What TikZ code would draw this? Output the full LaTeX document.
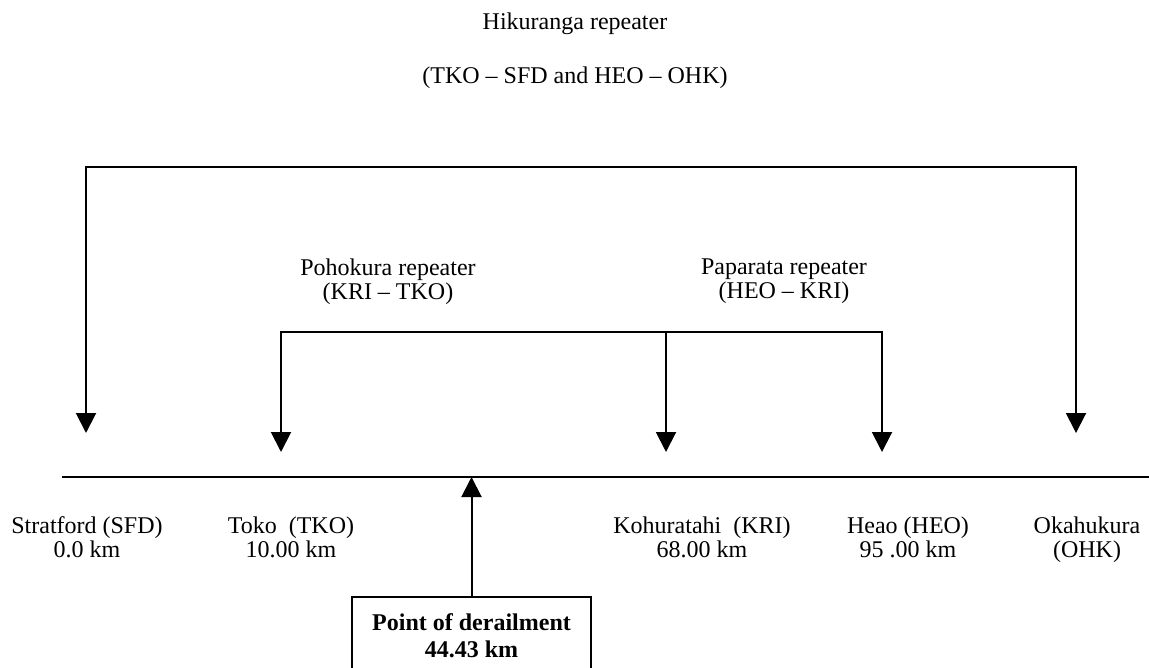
\documentclass[tikz,border=0pt]{standalone}
\usepackage{fontspec}
\setmainfont{Liberation Serif}
\usetikzlibrary{arrows.meta}

\begin{document}
\begin{tikzpicture}[x=0.5pt, y=-0.5pt,
        lbl/.style={align=center, inner sep=0pt, anchor=north, font=\fontsize{12}{12}\selectfont},
        feed/.style={-{Triangle[length=10pt, width=10pt]}, line width=1pt},
        track/.style={line width=1pt},
        pointbox/.style={draw, line width=1pt, align=center, inner sep=0pt, minimum width=119.5pt, minimum height=38.3pt, font=\fontsize{12}{13.5}\selectfont\bfseries}]
      \useasboundingbox (0,0) rectangle (1149,668);
      % titles of the repeaters
      \node[lbl] (hik) at (575,12) {Hikuranga repeater};
      \node[lbl] (hiksec) at (575,66.5) {(TKO -- SFD and HEO -- OHK)};
      \node[lbl] (poh) at (388,258.6) {Pohokura repeater\\(KRI -- TKO)};
      \node[lbl] (pap) at (784,258.6) {Paparata repeater\\(HEO -- KRI)};
      % stations along the line
      \foreach \x/\name/\txt in {87/sfdlbl/Stratford (SFD)\\0.0 km, 291/tkolbl/Toko\ \ (TKO)\\10.00 km, 702/krilbl/Kohuratahi\ \ (KRI)\\68.00 km, 908/heolbl/Heao (HEO)\\95 .00 km, 1087/ohklbl/Okahukura\\(OHK)}{
        \node[lbl] (\name) at (\x,516) {\txt};
      }
      \coordinate (trackW) at (62,477);
      \coordinate (trackE) at (1149,477);
      \draw[track] (trackW) -- (trackE);
      % arrow tips and bracket corners
      \coordinate (sfd) at (86,433);
      \coordinate (ohk) at (1076,433);
      \coordinate (tko) at (281,452);
      \coordinate (kri) at (666,452);
      \coordinate (heo) at (882,452);
      \coordinate (hikL) at (86,167);
      \coordinate (hikR) at (1076,167);
      \coordinate (pohL) at (281,332);
      \coordinate (papR) at (882,332);
      \draw[feed] (hikR) -- (hikL) -- (sfd);
      \draw[feed] (hikL) -- (hikR) -- (ohk);
      \draw[feed] (papR) -- (pohL) -- (tko);
      \draw[feed] (pohL) -- (papR) -- (heo);
      \draw[feed] (kri |- pohL) -- (kri);
      % derailment
      \node[pointbox] (derail) at (471.5,635.3) {Point of derailment\\44.43 km};
      \draw[feed] (derail.north) -- (derail.north |- trackW);
    \end{tikzpicture}
\end{document}
